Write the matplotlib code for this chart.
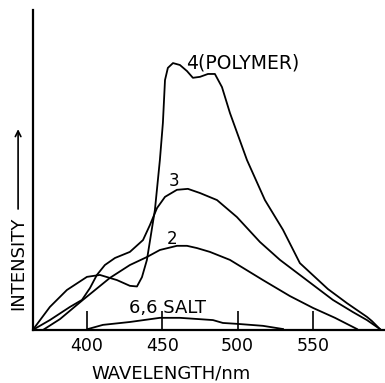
import matplotlib
matplotlib.use("Agg")
import matplotlib.pyplot as plt

# --- data (wavelength in nm, intensity in arb. units) ---
poly_wl = [364, 375.4, 386.7, 400, 408.6, 419.9, 428.5, 433.2, 436.5, 439.8,
           445.1, 448.4, 450.4, 451.8, 453.7, 457.1, 461.7, 466.4, 470.3, 475,
           480.3, 484.9, 489.6, 494.9, 506.2, 518.1, 530.1, 541.3, 559.9, 572.5,
           585.8, 589.1, 594.4]
poly_int = [0, 7.2, 12.5, 16.6, 17.2, 15.6, 13.8, 13.6, 16.5, 21.9,
            37.5, 53.1, 64.7, 78.1, 81.9, 83.4, 82.8, 80.9, 78.8, 79.1,
            80, 80, 75.9, 67.8, 53.1, 40.6, 31.3, 20.9, 12.8, 8.4,
            4.1, 2.8, 0.3]

s3_wl = [364, 375.4, 388.7, 396.7, 402, 406.6, 411.9, 418.6, 428.5, 437.2,
         441.8, 446.5, 451.8, 459.7, 467, 475, 486.3, 499.5, 514.8, 528.1,
         541.3, 563.2, 576.5, 585.8, 594.4]
s3_int = [0, 3.1, 7.2, 9.4, 13.1, 17.2, 20.3, 22.5, 24.4, 28.1,
          32.8, 38.1, 41.6, 43.8, 44.1, 42.8, 40.6, 35.3, 27.5, 21.9,
          17.2, 9.4, 5.6, 3.1, 0.3]

s2_wl = [370.8, 382.1, 397.3, 415.3, 428.5, 439.8, 448.4, 459.7, 466.4, 473,
         481.6, 494.9, 516.8, 534.7, 550, 564.6, 579.2]
s2_int = [0, 3.4, 9.4, 16.3, 20.3, 22.8, 25, 26.3, 26.3, 25.6,
          24.4, 21.9, 15.6, 10.6, 6.9, 3.8, 0.3]

salt_wl = [400.7, 410.6, 428.5, 448.4, 461.7, 483.6, 490.2, 500.2, 516.8, 530.1]
salt_int = [0.3, 1.6, 2.5, 3.8, 3.8, 3.1, 2.2, 1.9, 1.3, 0.3]

xticks = [400, 450, 500, 550]

# -----------------------------------------------------------------------------

fig = plt.figure(figsize=(3.85, 3.83), dpi=100)
ax = fig.add_axes([0.0857, 0.1384, 0.9116, 0.8356])

for wl, inten in [(poly_wl, poly_int), (s3_wl, s3_int),
                  (s2_wl, s2_int), (salt_wl, salt_int)]:
    ax.plot(wl, inten, color='black', linewidth=1.3, solid_joinstyle='round')

ax.set_xlim(364.2, 597.1)
ax.set_ylim(0, 100)

for side in ['top', 'right']:
    ax.spines[side].set_visible(False)
for side in ['left', 'bottom']:
    ax.spines[side].set_linewidth(1.6)

ax.set_xticks(xticks)
ax.set_xticklabels([str(t) for t in xticks], fontsize=12.5)
ax.tick_params(axis='x', direction='in', length=14, width=1.2, pad=5)
ax.set_yticks([])

# curve labels
ax.text(466, 83.5, '4(POLYMER)', fontsize=13.5, ha='left', va='center')
ax.text(454, 46.5, '3', fontsize=12, ha='left', va='center')
ax.text(453, 28.3, '2', fontsize=12, ha='left', va='center')
ax.text(428, 7, '6,6 SALT', fontsize=13, ha='left', va='center')

# axis titles
fig.text(0.445, 0.026, 'WAVELENGTH/nm', fontsize=13, ha='center', va='center')
fig.text(0.048, 0.313, 'INTENSITY', fontsize=13, rotation=90,
         ha='center', va='center')
fig.patches.append(matplotlib.patches.FancyArrowPatch(
    (0.047, 0.447), (0.047, 0.67), transform=fig.transFigure,
    arrowstyle='->', mutation_scale=10, linewidth=1.2, color='black'))

fig.savefig('out.png', dpi=100)
